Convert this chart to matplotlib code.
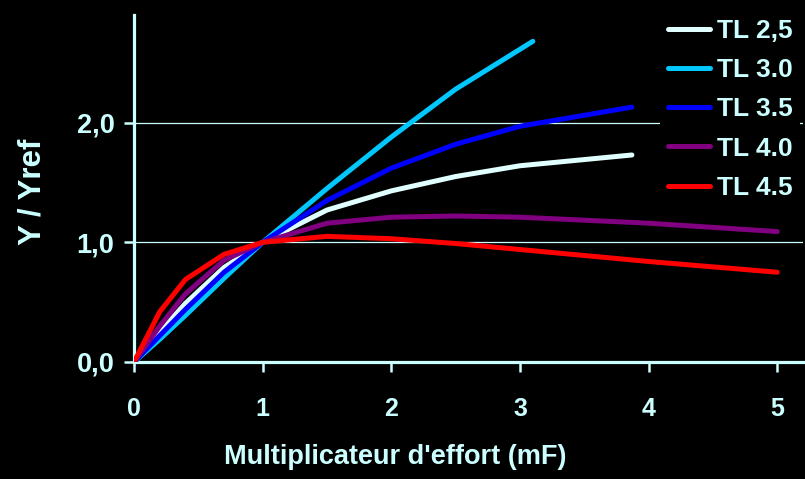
import matplotlib
matplotlib.use('Agg')
import matplotlib.pyplot as plt

# values
x_short = [0, 0.2, 0.4, 0.7, 1, 1.5, 2, 2.5, 3, 3.87]
x_cyan = [0, 0.2, 0.4, 0.7, 1, 1.5, 2, 2.5, 3.1]
x_long = [0, 0.2, 0.4, 0.7, 1, 1.5, 2, 2.5, 3, 4, 5]

tl25 = [0, 0.25, 0.49, 0.79, 1, 1.27, 1.43, 1.55, 1.64, 1.73]
tl30 = [0, 0.19, 0.39, 0.70, 1, 1.45, 1.88, 2.28, 2.68]
tl35 = [0, 0.22, 0.44, 0.75, 1, 1.35, 1.62, 1.82, 1.97, 2.13]
tl40 = [0, 0.30, 0.57, 0.85, 1, 1.16, 1.21, 1.22, 1.21, 1.16, 1.09]
tl45 = [0, 0.42, 0.69, 0.90, 1, 1.05, 1.03, 0.99, 0.94, 0.84, 0.75]

labels = ['TL 2,5', 'TL 3.0', 'TL 3.5', 'TL 4.0', 'TL 4.5']
colors = ['#e0ffff', '#00c8ff', '#0000ff', '#800080', '#ff0000']

txt = '#ccffff'
plt.rcParams['font.family'] = ['Liberation Sans', 'DejaVu Sans']
plt.rcParams['font.weight'] = 'bold'

fig = plt.figure(figsize=(8.05, 4.79), dpi=100, facecolor='black')
ax = fig.add_axes([0.1665, 0.2443, 0.831, 0.7244], facecolor='black')

#grid lines at 1 and 2
for g in [1, 2]:
    ax.axhline(g, color=txt, lw=0.9, zorder=1)

series = [(x_short, tl25), (x_cyan, tl30), (x_short, tl35),
          (x_long, tl40), (x_long, tl45)]
for (xs, ys), lab, c in zip(series, labels, colors):
    ax.plot(xs, ys, color=c, lw=3.6, label=lab, solid_capstyle='round',
            solid_joinstyle='round', zorder=3)

ax.set_xlim(0, 5.2)
ax.set_ylim(0, 2.9)

for s in ['top', 'right']:
    ax.spines[s].set_visible(False)
for s in ['left', 'bottom']:
    ax.spines[s].set_color(txt)
    ax.spines[s].set_linewidth(2.3)

ax.set_xticks([0, 1, 2, 3, 4, 5])
ax.set_yticks([0, 1, 2])
ax.set_yticklabels(['0,0', '1,0', '2,0'])
ax.tick_params(axis='both', colors=txt, direction='out', length=7, width=1.8)
ax.tick_params(axis='x', labelsize=18, pad=18)
ax.tick_params(axis='y', labelsize=19.5, pad=7)

ax.set_xlabel("Multiplicateur d'effort (mF)", color=txt, fontsize=19.5,
              fontweight='bold')
ax.xaxis.set_label_coords(0.39, -0.235)
ax.set_ylabel('Y / Yref', color=txt, fontsize=22.5, fontweight='bold')
ax.yaxis.label.set_va('center')
ax.yaxis.set_label_coords(-0.152, 0.49)

leg = ax.legend(loc='upper right', bbox_to_anchor=(1.016, 1.05),
                fontsize=19, frameon=True, facecolor='black',
                edgecolor='none', framealpha=1, handlelength=1.6,
                handletextpad=0.25, labelspacing=0.58, borderpad=0.3)
for t in leg.get_texts():
    t.set_color(txt)
    t.set_fontweight('bold')
for l in leg.get_lines():
    l.set_linewidth(3.6)
leg.set_zorder(5)

fig.savefig('out.png', dpi=100, facecolor='black')
